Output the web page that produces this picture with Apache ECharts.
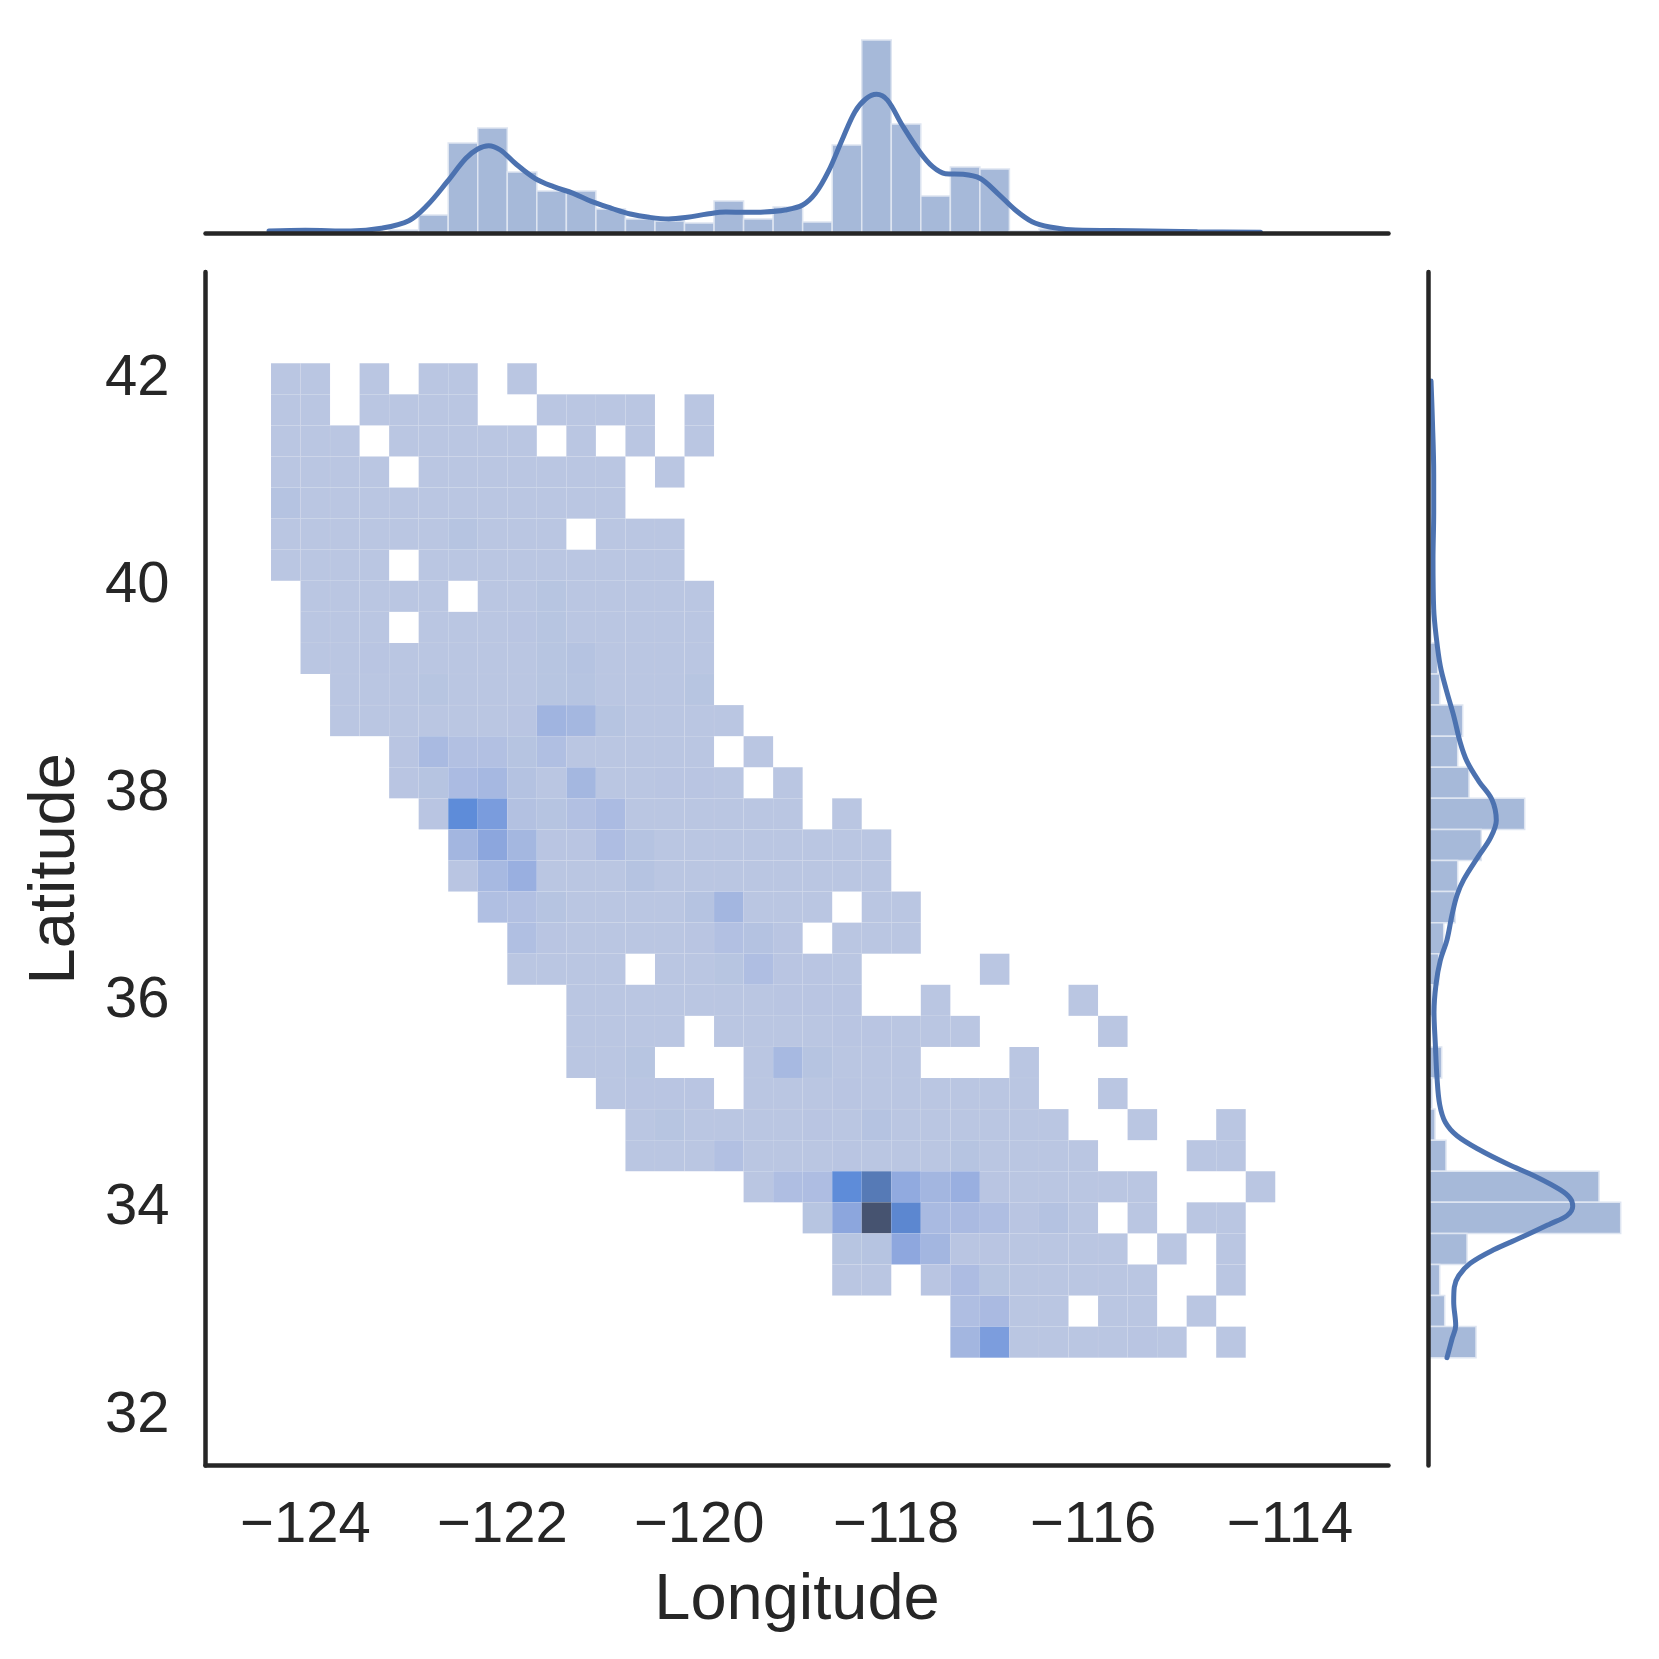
<!DOCTYPE html>
<html><head><meta charset="utf-8">
<script src="https://cdn.jsdelivr.net/npm/echarts@6/dist/echarts.min.js"></script>
<style>html,body{margin:0;padding:0;background:#fff}#c{width:1659px;height:1659px}</style>
</head><body><div id="c"></div>
<script>
// ---- data ----
const lonStart = -124.35, lonBin = 0.3;
const latTop = 42.15, latBin = 0.2997;
const xTicks = [-124,-122,-120,-118,-116,-114];
const yTicks = [32,34,36,38,40,42];
// 2-D histogram counts: rows from north to south, 34 longitude columns each
const heatRows = [
[2,2,0,2,0,2,2,0,2,0,0,0,0,0,0,0,0,0,0,0,0,0,0,0,0,0,0,0,0,0,0,0,0,0],
[2,2,0,2,2,2,2,0,0,2,2,2,2,0,2,0,0,0,0,0,0,0,0,0,0,0,0,0,0,0,0,0,0,0],
[2,2,2,0,2,2,2,2,2,0,2,0,2,0,2,0,0,0,0,0,0,0,0,0,0,0,0,0,0,0,0,0,0,0],
[2,2,2,2,0,2,2,2,2,2,2,2,0,2,0,0,0,0,0,0,0,0,0,0,0,0,0,0,0,0,0,0,0,0],
[6,2,2,2,2,2,2,2,2,2,2,2,0,0,0,0,0,0,0,0,0,0,0,0,0,0,0,0,0,0,0,0,0,0],
[2,2,2,2,2,2,5,2,2,2,0,2,2,2,0,0,0,0,0,0,0,0,0,0,0,0,0,0,0,0,0,0,0,0],
[2,2,2,2,0,2,2,2,2,2,2,2,2,2,0,0,0,0,0,0,0,0,0,0,0,0,0,0,0,0,0,0,0,0],
[0,2,2,2,2,2,0,2,2,4,2,2,2,2,2,0,0,0,0,0,0,0,0,0,0,0,0,0,0,0,0,0,0,0],
[0,2,2,2,0,2,2,2,3,4,2,2,2,2,2,0,0,0,0,0,0,0,0,0,0,0,0,0,0,0,0,0,0,0],
[0,2,2,3,2,2,2,2,2,4,6,2,2,2,2,0,0,0,0,0,0,0,0,0,0,0,0,0,0,0,0,0,0,0],
[0,0,2,2,2,4,2,2,2,4,5,2,2,2,4,0,0,0,0,0,0,0,0,0,0,0,0,0,0,0,0,0,0,0],
[0,0,2,2,2,2,2,2,3,22,19,5,2,2,2,2,0,0,0,0,0,0,0,0,0,0,0,0,0,0,0,0,0,0],
[0,0,0,0,3,16,9,9,5,10,2,2,2,2,2,0,2,0,0,0,0,0,0,0,0,0,0,0,0,0,0,0,0,0],
[0,0,0,0,3,5,14,18,7,2,19,2,2,3,3,2,0,2,0,0,0,0,0,0,0,0,0,0,0,0,0,0,0,0],
[0,0,0,0,0,3,60,48,8,5,9,14,2,2,2,2,2,2,0,2,0,0,0,0,0,0,0,0,0,0,0,0,0,0],
[0,0,0,0,0,0,20,38,19,3,3,12,6,2,2,2,2,2,2,2,2,0,0,0,0,0,0,0,0,0,0,0,0,0],
[0,0,0,0,0,0,3,17,26,2,2,2,6,2,2,2,2,2,2,2,2,0,0,0,0,0,0,0,0,0,0,0,0,0],
[0,0,0,0,0,0,0,10,9,5,2,2,2,2,6,20,2,2,2,0,2,2,0,0,0,0,0,0,0,0,0,0,0,0],
[0,0,0,0,0,0,0,0,10,3,2,2,2,2,3,9,7,3,0,2,2,2,0,0,0,0,0,0,0,0,0,0,0,0],
[0,0,0,0,0,0,0,0,2,2,2,2,0,2,2,4,11,3,3,2,0,0,0,0,2,0,0,0,0,0,0,0,0,0],
[0,0,0,0,0,0,0,0,0,0,2,2,2,2,2,2,2,3,3,3,0,0,2,0,0,0,0,2,0,0,0,0,0,0],
[0,0,0,0,0,0,0,0,0,0,2,2,2,2,0,2,2,2,2,3,3,2,2,2,0,0,0,0,2,0,0,0,0,0],
[0,0,0,0,0,0,0,0,0,0,2,2,4,0,0,0,2,17,5,2,2,2,0,0,0,2,0,0,0,0,0,0,0,0],
[0,0,0,0,0,0,0,0,0,0,0,2,3,3,3,0,2,2,2,3,2,2,2,2,2,2,0,0,2,0,0,0,0,0],
[0,0,0,0,0,0,0,0,0,0,0,0,2,4,2,2,2,2,3,2,6,2,2,2,2,2,2,0,0,2,0,0,2,0],
[0,0,0,0,0,0,0,0,0,0,0,0,2,2,2,9,2,2,2,3,2,2,2,5,2,2,2,2,0,0,0,2,2,0],
[0,0,0,0,0,0,0,0,0,0,0,0,0,0,0,0,2,11,12,60,75,32,20,26,3,2,2,2,2,2,0,0,0,2],
[0,0,0,0,0,0,0,0,0,0,0,0,0,0,0,0,0,0,4,38,100,64,16,15,11,3,7,2,0,2,0,2,2,0],
[0,0,0,0,0,0,0,0,0,0,0,0,0,0,0,0,0,0,0,4,5,36,20,3,3,2,2,2,2,0,2,0,2,0],
[0,0,0,0,0,0,0,0,0,0,0,0,0,0,0,0,0,0,0,2,2,0,3,13,4,2,2,2,2,2,0,0,2,0],
[0,0,0,0,0,0,0,0,0,0,0,0,0,0,0,0,0,0,0,0,0,0,0,11,15,2,2,0,2,2,0,2,0,0],
[0,0,0,0,0,0,0,0,0,0,0,0,0,0,0,0,0,0,0,0,0,0,0,20,47,2,2,2,2,3,2,0,2,0]
];
// top marginal: one count per longitude column
const lonCounts = [0,0,0,0,3,18,90,105,61,42,42,24,14,12,10,32,14,26,11,88,193,109,37,66,64,2,4,1,1,1,0.5,0.5,1,0.5];
// right marginal: one count per latitude row (north to south)
const latCounts = [0.5,0.5,0.5,0.5,0.5,1,1,1.5,3,9.7,11.7,34.7,29.7,41,96.7,53.3,29.7,27.3,15.7,10.7,4,2,13.7,4,7,18,171,192.7,39,11.7,16.7,48];
// KDE along longitude
const kdeLon = [-124.37,-124.00,-123.54,-123.23,-122.95,-122.76,-122.56,-122.37,-122.25,-122.14,-122.02,-121.87,-121.67,-121.48,-121.28,-121.09,-120.89,-120.70,-120.51,-120.31,-120.12,-119.92,-119.73,-119.53,-119.34,-119.13,-118.95,-118.82,-118.69,-118.55,-118.42,-118.31,-118.20,-118.09,-117.94,-117.76,-117.63,-117.50,-117.32,-117.15,-116.97,-116.79,-116.62,-116.44,-116.18,-115.60,-114.94,-114.30];
const kdeLonVal = [2,2.7,2,4.7,12.3,28,51.3,74.7,84,87.3,83,69.7,54.7,46.3,39.7,31.3,24.7,19,15.7,14,15.7,19,21,20.7,21,23,28,39.7,61.3,93,121,134,138.7,133,108,81,66.3,59.3,58.7,54.7,39.7,23,11.3,6,3,2.3,1.3,0.7];
// KDE along latitude
const kdeLat = [41.98,41.63,41.08,40.71,40.26,39.78,39.53,39.23,39.01,38.75,38.49,38.31,38.12,37.94,37.74,37.57,37.39,37.17,37.02,36.83,36.59,36.39,36.16,35.89,35.59,35.26,35.00,34.83,34.70,34.56,34.43,34.30,34.18,34.10,34.02,33.93,33.85,33.73,33.60,33.47,33.35,33.24,33.10,32.87,32.74,32.56];
const kdeLatVal = [3,4.3,5.7,5.7,5,5.7,8,12.3,18,25.7,32.3,39,50.7,64,68.3,62.3,50,35.7,29,24,19,12.3,8,6,7.3,9,11.7,17.3,29,52.3,79,109,132,142,144.7,139,122,95.7,65.7,42.3,30.7,26.3,25.7,27.7,24,19];

// ---- styles ----
const INK = '#262626', LINE = '#4C72B0', BAR = '#A6B9D9', BAR_EDGE = '#DEE5F1';
const stops = [[1,[187,199,226]],[6,[181,195,225]],[12,[174,189,226]],[20,[163,182,224]],[30,[147,171,224]],[40,[138,165,220]],[48,[122,156,221]],[60,[94,140,217]],[75,[86,122,182]],[100,[70,83,112]]];
function colorOf(v){
  for(let i=1;i<stops.length;i++){
    if(v<=stops[i][0]){
      const t=(v-stops[i-1][0])/(stops[i][0]-stops[i-1][0]);
      const a=stops[i-1][1],b=stops[i][1];
      return 'rgb('+a.map((c,k)=>Math.round(c+(b[k]-c)*t)).join(',')+')';
    }
  }
  return 'rgb(70,83,112)';
}
const heatData=[];
heatRows.forEach((row,r)=>row.forEach((v,c)=>{if(v>0)heatData.push([c,r,v]);}));
const lonData=lonCounts.map((v,c)=>[c,v]);
const latData=latCounts.map((v,r)=>[r,v]);

const FONT='"Liberation Sans", Arial, sans-serif';
const xMin=-125.015,xMax=-113.0,yMin=31.52,yMax=43.03;
const axisLine={show:true,onZero:false,lineStyle:{color:INK,width:4.5}};
const fmt=v=>String(v).replace('-','\u2212');
const option={
  animation:false,
  backgroundColor:'#fff',
  grid:[
    {left:205.5,top:272,width:1183,height:1193.5},
    {left:205.5,top:20,width:1183,height:213},
    {left:1428,top:272,width:213,height:1193.5}
  ],
  xAxis:[
    {gridIndex:0,type:'value',z:8,min:xMin,max:xMax,splitLine:{show:false},axisLine,axisTick:{show:false},
     axisLabel:{customValues:xTicks,formatter:fmt,color:INK,fontFamily:FONT,fontSize:58,margin:31},
     name:'Longitude',nameLocation:'middle',nameGap:103,nameTextStyle:{color:INK,fontFamily:FONT,fontSize:65}},
    {gridIndex:1,type:'value',z:8,min:xMin,max:xMax,splitLine:{show:false},axisLine,axisTick:{show:false},axisLabel:{show:false}},
    {gridIndex:2,type:'value',min:0,max:213,show:false}
  ],
  yAxis:[
    {gridIndex:0,type:'value',z:8,min:yMin,max:yMax,splitLine:{show:false},axisLine,axisTick:{show:false},
     axisLabel:{customValues:yTicks,formatter:fmt,color:INK,fontFamily:FONT,fontSize:58,margin:36,padding:[8,0,0,0]},
     name:'Latitude',nameLocation:'middle',nameGap:117,nameTextStyle:{color:INK,fontFamily:FONT,fontSize:65}},
    {gridIndex:1,type:'value',min:0,max:213,show:false},
    {gridIndex:2,type:'value',z:8,min:yMin,max:yMax,splitLine:{show:false},axisLine,axisTick:{show:false},axisLabel:{show:false}}
  ],
  series:[
    {type:'custom',xAxisIndex:0,yAxisIndex:0,data:heatData,clip:false,
     renderItem(p,api){
       const c=api.value(0),r=api.value(1),v=api.value(2);
       const a=api.coord([lonStart+c*lonBin,latTop-r*latBin]);
       const b=api.coord([lonStart+(c+1)*lonBin,latTop-(r+1)*latBin]);
       return {type:'rect',shape:{x:a[0],y:a[1],width:b[0]-a[0],height:b[1]-a[1]},
         style:{fill:colorOf(v),stroke:'rgba(255,255,255,0.05)',lineWidth:0.8}};
     }},
    {type:'custom',xAxisIndex:1,yAxisIndex:1,data:lonData,clip:false,z:2,
     renderItem(p,api){
       const c=api.value(0),v=api.value(1);
       const a=api.coord([lonStart+c*lonBin,v]);
       const b=api.coord([lonStart+(c+1)*lonBin,0]);
       return {type:'rect',shape:{x:a[0],y:a[1],width:b[0]-a[0],height:b[1]-a[1]},
         style:{fill:BAR,stroke:BAR_EDGE,lineWidth:1.5}};
     }},
    {type:'custom',xAxisIndex:2,yAxisIndex:2,data:latData,clip:false,z:2,
     renderItem(p,api){
       const r=api.value(0),v=api.value(1);
       const a=api.coord([0,latTop-r*latBin]);
       const b=api.coord([v,latTop-(r+1)*latBin]);
       return {type:'rect',shape:{x:a[0],y:a[1],width:b[0]-a[0],height:b[1]-a[1]},
         style:{fill:BAR,stroke:BAR_EDGE,lineWidth:1.5}};
     }},
    {type:'line',xAxisIndex:1,yAxisIndex:1,z:3,showSymbol:false,symbol:'none',smooth:0.35,clip:false,
     data:kdeLon.map((x,i)=>[x,kdeLonVal[i]]),lineStyle:{color:LINE,width:5,cap:'round'}},
    {type:'line',xAxisIndex:2,yAxisIndex:2,z:3,showSymbol:false,symbol:'none',smooth:0.35,clip:false,
     data:kdeLat.map((y,i)=>[kdeLatVal[i],y]),lineStyle:{color:LINE,width:5,cap:'round'}}
  ]
};
const chart=echarts.init(document.getElementById('c'),null,{renderer:'canvas'});
chart.setOption(option);
</script>
</body></html>
